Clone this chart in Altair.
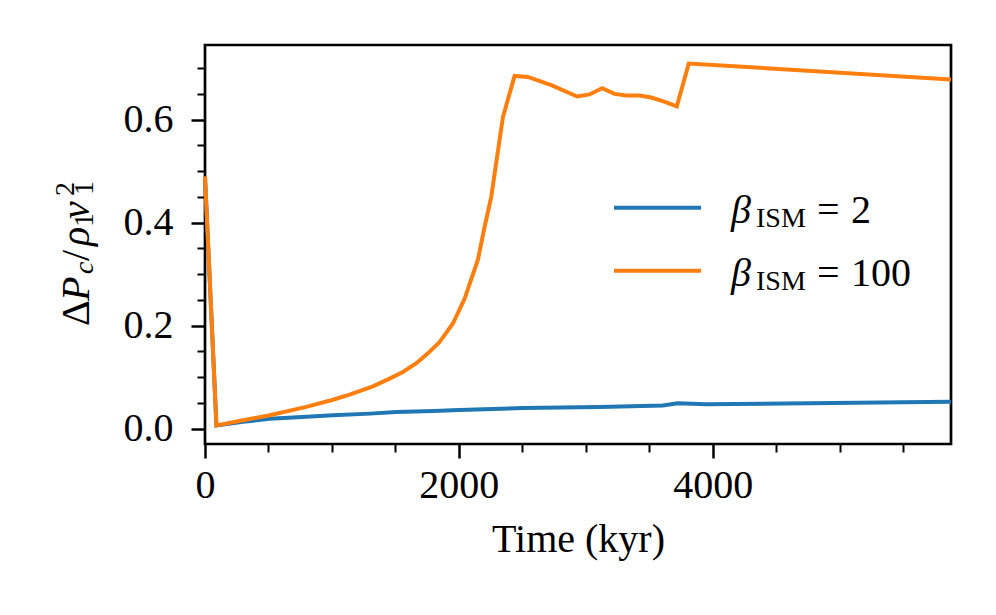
import altair as alt
import pandas as pd

# ---------------- data ----------------
time_blue = [0, 90, 300, 510, 800, 1008, 1300, 1507, 1800, 2005, 2504, 3108, 3606, 3724, 3948, 5877]
val_blue = [0.49, 0.006, 0.013, 0.019, 0.023, 0.026, 0.029, 0.032, 0.034, 0.036, 0.040, 0.042,
             0.045, 0.049, 0.047, 0.052]

time_orange = [0, 90, 300, 510, 798, 1008, 1139, 1323, 1454, 1559, 1665, 1756, 1848, 1953, 2045,
               2150, 2202, 2255, 2347, 2439, 2543, 2728, 2932, 3029, 3129, 3226, 3318, 3423, 3515,
               3606, 3717, 3811, 5877]
val_orange = [0.49, 0.006, 0.016, 0.026, 0.042, 0.056, 0.066, 0.082, 0.097, 0.110, 0.127, 0.146,
              0.168, 0.204, 0.252, 0.328, 0.391, 0.450, 0.605, 0.685, 0.683, 0.667, 0.645, 0.649,
              0.661, 0.650, 0.647, 0.647, 0.643, 0.636, 0.626, 0.709, 0.678]

x_major = [0, 2000, 4000]
x_minor = [500, 1000, 1500, 2500, 3000, 3500, 4500, 5000, 5500]
y_major = [0.0, 0.2, 0.4, 0.6]
y_minor = [0.05, 0.1, 0.15, 0.25, 0.3, 0.35, 0.45, 0.5, 0.55, 0.65, 0.7]
legend_values = ["2", "100"]

X_DOMAIN = [0, 5877]
Y_DOMAIN = [-0.03, 0.745]

BLUE = "#1f77b4"
ORANGE = "#ff7f0e"
FONT = "Liberation Serif"
FS = 40
FS_SMALL = 28
LW = 4

blue_df = pd.DataFrame({"t": time_blue, "v": val_blue})
orange_df = pd.DataFrame({"t": time_orange, "v": val_orange})
one = pd.DataFrame({"a": [0]})

xs = alt.Scale(domain=X_DOMAIN, nice=False, zero=False)
ys = alt.Scale(domain=Y_DOMAIN, nice=False, zero=False)

major_x = alt.Axis(values=x_major, orient="bottom", format="d", tickSize=14, tickWidth=2.5,
                   tickColor="black", domain=False, grid=False, labelFont=FONT, labelFontSize=FS,
                   labelColor="black", labelPadding=7, labelFlush=False,
                   title="Time (kyr)", titleFont=FONT, titleFontSize=FS, titleFontWeight="normal",
                   titleColor="black", titleX=373, titleY=107, titleAlign="center",
                   titleBaseline="alphabetic")
major_y = alt.Axis(values=y_major, orient="left", format=".1f", tickSize=14, tickWidth=2.5,
                   tickColor="black", domain=False, grid=False, labelFont=FONT, labelFontSize=FS,
                   labelColor="black", labelPadding=18, labelFlush=False, title=None)
minor_x = alt.Axis(values=x_minor, orient="bottom", labels=False, tickSize=8, tickWidth=2,
                   tickColor="black", domain=False, grid=False, title=None)
minor_y = alt.Axis(values=y_minor, orient="left", labels=False, tickSize=8, tickWidth=2,
                   tickColor="black", domain=False, grid=False, title=None)

blue_line = alt.Chart(blue_df).mark_line(color=BLUE, strokeWidth=LW).encode(
    x=alt.X("t:Q", scale=xs, axis=major_x),
    y=alt.Y("v:Q", scale=ys, axis=major_y),
)
orange_line = alt.Chart(orange_df).mark_line(color=ORANGE, strokeWidth=LW).encode(
    x=alt.X("t:Q", scale=xs, axis=None),
    y=alt.Y("v:Q", scale=ys, axis=None),
)
minor_ticks = alt.Chart(blue_df).mark_point(opacity=0).encode(
    x=alt.X("t:Q", scale=xs, axis=minor_x),
    y=alt.Y("v:Q", scale=ys, axis=minor_y),
)


def txt(s, x, y, size=FS, italic=False, angle=0):
    kw = dict(text=s, font=FONT, fontSize=size, align="left", baseline="alphabetic",
              color="black", angle=angle)
    if italic:
        kw["fontStyle"] = "italic"
    return alt.Chart(one).mark_text(**kw).encode(x=alt.value(x), y=alt.value(y))


def rule(color, x1, x2, y):
    return alt.Chart(one).mark_rule(color=color, strokeWidth=LW).encode(
        x=alt.value(x1), x2=alt.value(x2), y=alt.value(y))


# legend (hand-built so that the subscript can be drawn)
legend = [
    rule(BLUE, 409, 496, 162.7),
    rule(ORANGE, 409, 496, 225.7),
    txt("β", 526, 177.7, italic=True),
    txt("ISM", 551, 182, size=FS_SMALL),
    txt("=", 612, 177.7),
    txt(legend_values[0], 646, 177.7),
    txt("β", 526, 241, italic=True),
    txt("ISM", 551, 245, size=FS_SMALL),
    txt("=", 612, 241),
    txt(legend_values[1], 646, 241),
]

# y-axis title  ΔP_c / ρ_1 v_1^2  (rotated)
ytitle = [
    txt("Δ", -116.5, 281, angle=270),
    txt("P", -116.5, 256, italic=True, angle=270),
    txt("c", -112, 229, size=FS_SMALL, italic=True, angle=270),
    txt("/", -116.5, 216, angle=270),
    txt("ρ", -116.5, 201, italic=True, angle=270),
    txt("1", -112, 182, size=FS_SMALL, angle=270),
    txt("v", -116.5, 174, italic=True, angle=270),
    txt("2", -131, 151, size=FS_SMALL, angle=270),
    txt("1", -112, 150, size=FS_SMALL, angle=270),
]

chart = alt.layer(blue_line, orange_line, minor_ticks, *legend, *ytitle).resolve_axis(
    x="independent", y="independent"
).properties(
    width=746,
    height=399,
    autosize=alt.AutoSizeParams(type="none"),
    padding={"left": 197, "top": 37, "right": 30, "bottom": 125},
    background="white",
).configure_view(stroke="black", strokeWidth=2.7)

chart.save("out.html", embed_options={"renderer": "svg", "actions": False})
